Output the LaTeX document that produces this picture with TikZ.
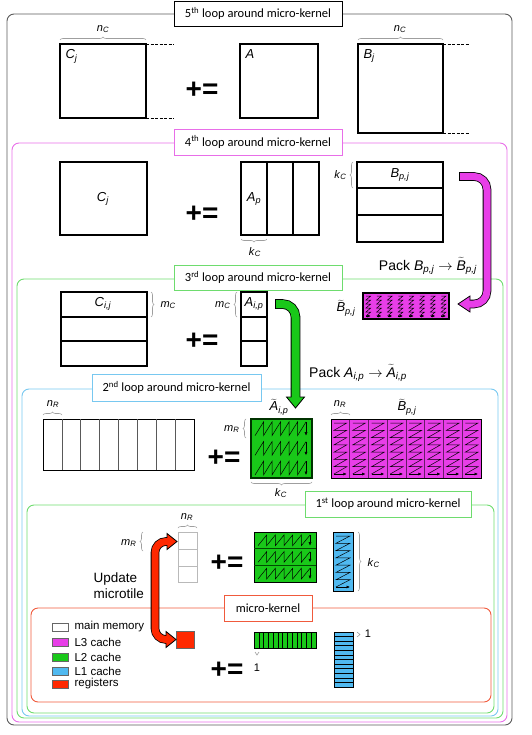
\documentclass[tikz,border=0pt]{standalone}
\usepackage{fontspec}
\setmainfont{Liberation Sans}
\newfontfamily\calfont{Carlito}
\usetikzlibrary{arrows.meta,decorations.pathreplacing,calc}
\definecolor{magf}{RGB}{232,62,232}
\definecolor{magl}{RGB}{232,110,232}
\definecolor{grnf}{RGB}{25,200,25}
\definecolor{grnl}{RGB}{110,220,110}
\definecolor{bluf}{RGB}{80,185,240}
\definecolor{blul}{RGB}{120,200,240}
\definecolor{redf}{RGB}{255,40,0}
\definecolor{redl}{RGB}{240,90,60}
\definecolor{frgray}{RGB}{90,90,90}
\newcommand\mv[2]{\textit{#1}\textsubscript{\textit{#2}}}
\newcommand\tv[2]{$\widetilde{\mbox{\textit{#1}}}$\textsubscript{\textit{#2}}}
% zigzag for A-tilde style panel: X0 Y0 X1 Y1 (3 rows)
\newcommand\azz[4]{%
  \pgfmathsetmacro\zzh{(#4-#2)/3}%
  \pgfmathsetmacro\zzd{(#3-#1-10)/6}%
  \foreach \r in {0,1,2}{%
    \pgfmathsetmacro\zzt{#2+\r*\zzh+3}%
    \pgfmathsetmacro\zzb{#2+(\r+1)*\zzh-3}%
    \draw[zz] ({#1+4},\zzb) \foreach \k in {1,...,5}{ -- ({#1+4+\k*\zzd},\zzt) -- ({#1+4+\k*\zzd},\zzb)} -- ({#1+4+6*\zzd},\zzt);
    \draw[zz,tip] ({#1+4+6*\zzd},\zzt) -- ({#1+4+6*\zzd},\zzb);
  }}
% zigzag for B-tilde style panel: X0 Y0 X1 Y1 ncols nstrokes-2 margin
\newcommand\bzz[7]{%
  \pgfmathsetmacro\zzw{(#3-#1)/#5}%
  \pgfmathsetmacro\zzd{(#4-#2-2*#7)/(#6+1)}%
  \foreach \c in {1,...,#5}{%
    \pgfmathsetmacro\zzl{#1+(\c-1)*\zzw+3}%
    \pgfmathsetmacro\zzr{#1+\c*\zzw-3}%
    \draw[zz] (\zzl,{#2+#7}) -- (\zzr,{#2+#7}) \foreach \k in {1,...,#6}{ -- (\zzl,{#2+#7+\k*\zzd}) -- (\zzr,{#2+#7+\k*\zzd})} -- (\zzl,{#4-#7});
    \draw[zz,tip] (\zzl,{#4-#7}) -- (\zzr,{#4-#7});
  }}
\begin{document}
\begin{tikzpicture}[x=1pt,y=-1pt,
  mat/.style={draw=black, line width=1.1pt},
  br/.style={draw=gray!75, line width=0.6pt, decorate, decoration={brace, amplitude=3pt}},
  frm/.style={rounded corners=7pt, line width=0.9pt},
  lbox/.style={fill=white, line width=0.9pt},
  lb/.style={font=\calfont\fontsize{12.5}{13}\selectfont},
  pe/.style={font=\bfseries\fontsize{28}{28}\selectfont},
  ml/.style={font=\fontsize{13}{14}\selectfont},
  pk/.style={font=\fontsize{14}{15}\selectfont},
  sl/.style={font=\fontsize{11}{12}\selectfont},
  lg/.style={font=\fontsize{11.5}{12}\selectfont, anchor=west},
  zz/.style={line width=0.5pt},
  tip/.style={-{Latex[length=3.5pt,width=3pt]}},
  dsh/.style={line width=0.9pt, dash pattern=on 3pt off 1.5pt},
]
\useasboundingbox (0,0) rectangle (531,735);
% ---------- frames
\draw[frm, draw=frgray] (7,14) rectangle (512,725);
\draw[frm, draw=magl] (12,143) rectangle (507,722);
\draw[frm, draw=grnl] (17,279) rectangle (503,718);
\draw[frm, draw=blul] (22,389) rectangle (498,716);
\draw[frm, draw=grnl] (27,505) rectangle (494,713);
\draw[frm, draw=redl] (31,608) rectangle (491,702);
% ---------- frame labels
\draw[lbox, draw=black] (174,1) rectangle (342,26);
\node[lb] (l5) at (258,13.5) {5\textsuperscript{th} loop around micro-kernel};
\draw[lbox, draw=magl] (174,129) rectangle (342,155);
\node[lb] (l4) at (258,142) {4\textsuperscript{th} loop around micro-kernel};
\draw[lbox, draw=grnl] (174,265) rectangle (342,290);
\node[lb] (l3) at (258,277.5) {3\textsuperscript{rd} loop around micro-kernel};
\draw[lbox, draw=blul] (92,374) rectangle (261,401);
\node[lb] (l2) at (176.5,387.5) {2\textsuperscript{nd} loop around micro-kernel};
\draw[lbox, draw=grnl] (305,491) rectangle (471,517);
\node[lb] (l1) at (388,504) {1\textsuperscript{st} loop around micro-kernel};
\draw[lbox, draw=redl] (224,595) rectangle (312,621);
\node[lb] (l0) at (268,608) {micro-kernel};
% ---------- 5th loop
\draw[mat] (60,44) rectangle (146,118);
\node[ml, anchor=north west] (c5) at (62,46) {\mv{C}{j}};
\draw[br] (60,40) -- (146,40);
\node[sl] (nc5a) at (103,29) {\mv{n}{C}};
\draw[dsh] (146,44) -- (174,44) (146,118) -- (174,118);
\node[pe] (pe5) at (202,90) {+=};
\draw[mat] (240,44) rectangle (318,118);
\node[ml, anchor=north west] (a5) at (242,46) {\textit{A}};
\draw[mat] (358,44) rectangle (443,133);
\node[ml, anchor=north west] (b5) at (360,46) {\mv{B}{j}};
\draw[br] (358,40) -- (443,40);
\node[sl] (nc5b) at (400,29) {\mv{n}{C}};
\draw[dsh] (443,44) -- (470,44) (443,133) -- (470,133);
% ---------- 4th loop
\draw[mat] (60,162) rectangle (147,235);
\node[ml] (c4) at (103,199) {\mv{C}{j}};
\node[pe] (pe4) at (202,214) {+=};
\draw[mat] (241,162) rectangle (319,235);
\draw[mat] (267,162) -- (267,235) (293,162) -- (293,235);
\node[ml] (a4) at (254,199) {\mv{A}{p}};
\draw[br] (267,239) -- (241,239);
\node[sl] (kc4a) at (255,252) {\mv{k}{C}};
\draw[mat] (357,162) rectangle (443,242);
\draw[mat] (357,188) -- (443,188) (357,215) -- (443,215);
\node[ml] (b4) at (400,175) {\mv{B}{p,j}};
\draw[br] (353,188) -- (353,162);
\node[sl, anchor=east] (kc4b) at (350,175) {\mv{k}{C}};
\node[pk] (pkB) at (428,266) {Pack \mv{B}{p,j} $\rightarrow$ \tv{B}{p,j}};
% ---------- 3rd loop
\draw[mat] (61,292) rectangle (147,366);
\draw[mat] (61,317) -- (147,317) (61,341) -- (147,341);
\node[ml] (c3) at (103,304) {\mv{C}{i,j}};
\draw[br] (151,292) -- (151,317);
\node[sl, anchor=west] (mc3a) at (157,305) {\mv{m}{C}};
\node[pe] (pe3) at (202,341) {+=};
\draw[mat] (241,292) rectangle (267,366);
\draw[mat] (241,317) -- (267,317) (241,341) -- (267,341);
\node[ml] (a3) at (254,304) {\mv{A}{i,p}};
\draw[br] (237,317) -- (237,292);
\node[sl, anchor=east] (mc3b) at (234,305) {\mv{m}{C}};
\node[pk] (pkA) at (358,373) {Pack \mv{A}{i,p} $\rightarrow$ \tv{A}{i,p}};
% small packed B
\draw[fill=magf, draw=none] (363,293) rectangle (449,319);
\bzz{363}{293}{449}{319}{8}{4}{3}
\draw[line width=1.1pt] (363,293) rectangle (449,319);
\node[ml] (bt3) at (346,308) {\tv{B}{p,j}};
% ---------- 2nd loop
\draw[line width=0.9pt] (43,419) rectangle (194,470);
\foreach \i in {1,...,7}{\draw[gray!70!black, line width=0.6pt] ({43+\i*151/8},419) -- ({43+\i*151/8},470);}
\draw[br] (43,415) -- (62,415);
\node[sl] (nr2a) at (53,404) {\mv{n}{R}};
\node[pe] (pe2) at (224,458) {+=};
\draw[fill=grnf, draw=none] (251,419) rectangle (312,478);
\azz{251}{419}{312}{478}
\draw[line width=1.5pt, draw=black!80!green] (251,419) rectangle (312,478);
\node[ml] (at2) at (279,407) {\tv{A}{i,p}};
\draw[br] (246,438) -- (246,419);
\node[sl, anchor=east] (mr2) at (243,429) {\mv{m}{R}};
\draw[br] (312,482) -- (251,482);
\node[sl] (kc2) at (281,493) {\mv{k}{C}};
\draw[fill=magf, draw=none] (331,419) rectangle (481,478);
\foreach \i in {1,...,7}{\draw[black!55!magf, line width=0.6pt] ({331+\i*150/8},419) -- ({331+\i*150/8},478);}
\bzz{331}{419}{481}{478}{8}{6}{4}
\draw[line width=0.9pt] (331,419) rectangle (481,478);
\node[ml] (bt2) at (407,407) {\tv{B}{p,j}};
\draw[br] (331,415) -- (350,415);
\node[sl] (nr2b) at (340,404) {\mv{n}{R}};
% ---------- 1st loop
\draw[gray!55, line width=0.8pt] (178,532) rectangle (197,582);
\draw[gray!55, line width=0.8pt] (178,549) -- (197,549) (178,566) -- (197,566);
\draw[br] (178,528) -- (197,528);
\node[sl] (nr1) at (187,517) {\mv{n}{R}};
\draw[br] (143,551) -- (143,532);
\node[sl, anchor=east] (mr1) at (140,543) {\mv{m}{R}};
\node[pe] (pe1) at (227,563) {+=};
\draw[fill=grnf, draw=none] (254,532) rectangle (316,582);
\azz{254}{532}{316}{582}
\draw[line width=0.9pt] (254,532) rectangle (316,582);
\draw[line width=0.7pt, black!70!green] (254,548.7) -- (316,548.7) (254,565.3) -- (316,565.3);
\draw[fill=bluf, draw=none] (333,532) rectangle (353,591);
\bzz{333}{532}{353}{591}{1}{6}{4}
\draw[line width=0.9pt] (333,532) rectangle (353,591);
\draw[br] (358,532) -- (358,591);
\node[sl, anchor=west] (kc1) at (364,563) {\mv{k}{C}};
\node[font=\fontsize{13.5}{16}\selectfont, align=left, anchor=west] (upd) at (90,586) {Update\\microtile};
% ---------- micro-kernel
\foreach \y/\c/\t/\n in {627/white/main memory/lgA, 642/magf/L3 cache/lgB, 657/grnf/L2 cache/lgC, 671/bluf/L1 cache/lgD, 684/redf/registers/lgE}{
  \draw[fill=\c, draw=black!60, line width=0.7pt] (52,\y-4) rectangle (68,\y+4);
  \node[lg] (\n) at (71,\y) {\t};
}
\draw[fill=redf, draw=black!60, line width=0.5pt] (176,631) rectangle (194,648);
\coordinate (reg) at (176,639.5);
\coordinate (tile) at (177,541.5);
\node[pe] (pe0) at (227,670) {+=};
\draw[fill=grnf, line width=0.9pt] (254,632) rectangle (316,648);
\foreach \i in {1,...,12}{\draw[line width=0.5pt] ({254+\i*62/13},632) -- ({254+\i*62/13},648);}
\draw[br] (259,652) -- (255,652);
\node[sl] (one1) at (257,668) {1};
\draw[fill=bluf, line width=0.9pt] (334,632) rectangle (353,687);
\foreach \i in {1,...,11}{\draw[line width=0.6pt] (334,{632+\i*55/12}) -- (353,{632+\i*55/12});}
\draw[br] (357,632) -- (357,637);
\node[sl] (one2) at (368,634) {1};
% ---------- pack arrows
% magenta
\coordinate (mS) at (460,176.5);
\coordinate (mT) at (458,304);
\draw[line width=8.6pt, rounded corners=13pt] ($(mS)+(-0.8,0)$) -- (487,176.5) -- (487,304) -- (470,304);
\draw[fill=magf, line width=0.8pt] (mT) -- (470,296) -- (470,312) -- cycle;
\draw[line width=7pt, magf, rounded corners=13pt] (mS) -- (487,176.5) -- (487,304) -- (468,304);
% green
\coordinate (gS) at (276,304);
\coordinate (gT) at (295.5,408);
\draw[line width=9.6pt, rounded corners=13pt] ($(gS)+(-0.8,0)$) -- (295.5,304) -- (295.5,398);
\draw[fill=grnf, line width=0.8pt] (gT) -- (286.5,397) -- (304.5,397) -- cycle;
\draw[line width=8pt, grnf, rounded corners=13pt] (gS) -- (295.5,304) -- (295.5,400);
% red double arrow
\draw[line width=8.6pt, rounded corners=11pt] (168,541.5) -- (155,541.5) -- (155,639.5) -- (168,639.5);
\draw[fill=redf, line width=0.8pt] (tile) -- (167,533.5) -- (167,549.5) -- cycle;
\draw[fill=redf, line width=0.8pt] (reg) -- (166,631.5) -- (166,647.5) -- cycle;
\draw[line width=7pt, redf, rounded corners=11pt] (169,541.5) -- (155,541.5) -- (155,639.5) -- (168,639.5);
\end{tikzpicture}
\end{document}
